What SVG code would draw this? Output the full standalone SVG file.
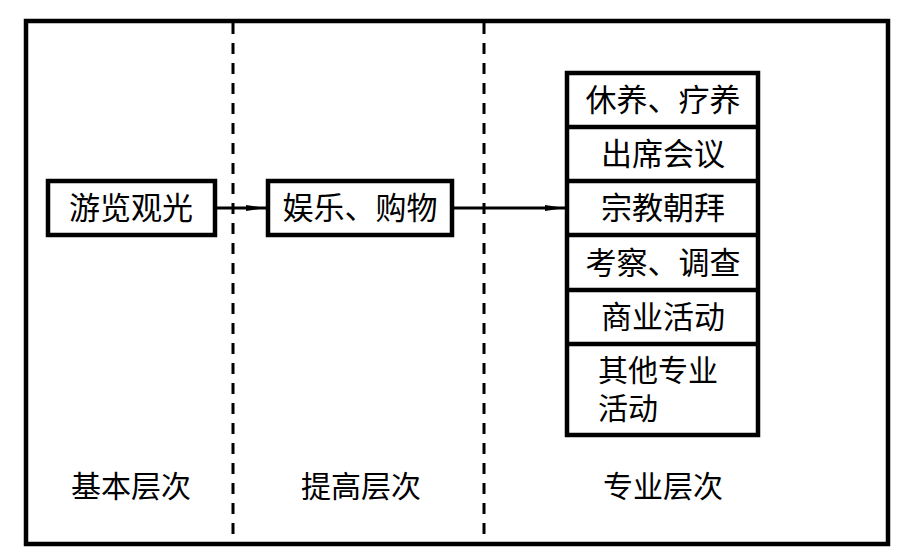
<svg xmlns="http://www.w3.org/2000/svg" width="912" height="557" viewBox="0 0 912 557">
<defs>
<style>
.frame{fill:none;stroke:#000;stroke-width:4.5}
.box{fill:#fff;stroke:#000;stroke-width:4.5}
.dash{stroke:#000;stroke-width:3;stroke-dasharray:11 9;fill:none}
.conn{stroke:#000;stroke-width:2.8;fill:none}
text{font-family:"Noto Sans CJK SC","Liberation Serif",serif;font-size:31px;fill:#000;text-anchor:middle}
.lab{font-size:30px}
.left{text-anchor:start;font-size:30px}
</style>
<marker id="ah" viewBox="0 0 20 8" refX="20" refY="4" markerWidth="20" markerHeight="8" markerUnits="userSpaceOnUse" orient="auto">
<path d="M0,1 L20,4 L0,7 Z" fill="#000"/>
</marker>
</defs>
<rect width="912" height="557" fill="#fff"/>
<rect class="frame" x="26" y="21" width="862" height="523"/>
<line class="dash" x1="233" y1="23" x2="233" y2="542"/>
<line class="dash" x1="484" y1="23" x2="484" y2="542"/>
<g id="connectors">
<line class="conn" x1="215" y1="208" x2="266" y2="208" marker-end="url(#ah)"/>
<line class="conn" x1="453" y1="208" x2="565" y2="208" marker-end="url(#ah)"/>
</g>
<g id="n1"><rect class="box" x="48" y="181" width="167" height="54"/><text x="131" y="219">游览观光</text></g>
<g id="n2"><rect class="box" x="268" y="181" width="184" height="54"/><text x="360" y="219">娱乐、购物</text></g>
<g id="stack">
<rect class="box" x="567" y="73" width="191" height="362"/>
<line class="frame" x1="567" y1="127" x2="758" y2="127"/>
<line class="frame" x1="567" y1="181" x2="758" y2="181"/>
<line class="frame" x1="567" y1="235" x2="758" y2="235"/>
<line class="frame" x1="567" y1="290" x2="758" y2="290"/>
<line class="frame" x1="567" y1="344" x2="758" y2="344"/>
<text x="663" y="111">休养、疗养</text>
<text x="663" y="165">出席会议</text>
<text x="663" y="219">宗教朝拜</text>
<text x="663" y="274">考察、调查</text>
<text x="663" y="328">商业活动</text>
<text class="left" x="598" y="381"><tspan x="598" y="381">其他专业</tspan><tspan x="598" y="419">活动</tspan></text>
</g>
<g id="labels">
<text class="lab" x="131" y="497">基本层次</text>
<text class="lab" x="361" y="497">提高层次</text>
<text class="lab" x="663" y="497">专业层次</text>
</g>
</svg>
